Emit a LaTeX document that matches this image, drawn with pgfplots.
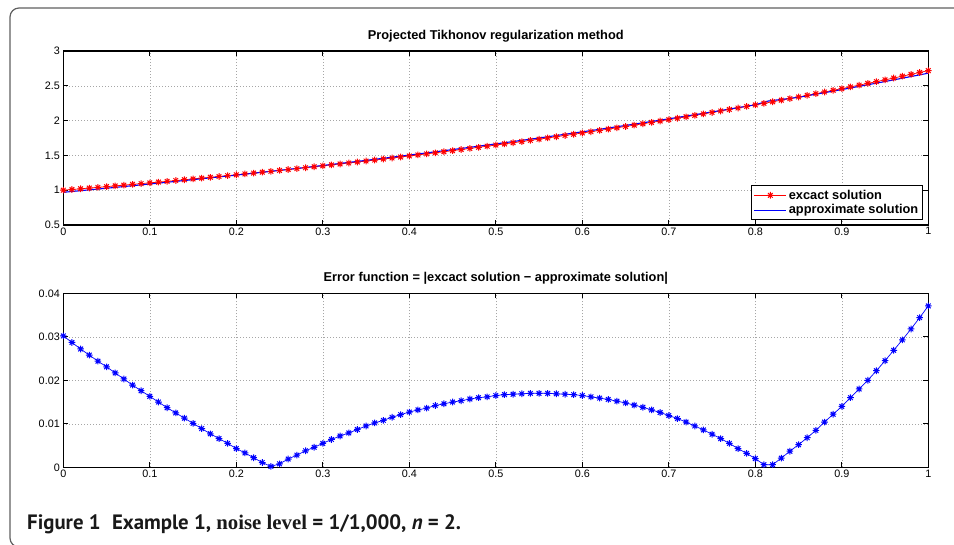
\documentclass[border=0pt]{standalone}
\usepackage{pgfplots}
\pgfplotsset{compat=1.18}
\usepackage{fontspec}
\setmainfont{Liberation Sans}
\newfontfamily\capsans{PT Sans}
\newfontfamily\capserif{Liberation Serif}

\pgfdeclareplotmark{mstar}{%
 \pgfpathmoveto{\pgfqpoint{-\pgfplotmarksize}{0pt}}\pgfpathlineto{\pgfqpoint{\pgfplotmarksize}{0pt}}%
 \pgfpathmoveto{\pgfqpoint{0pt}{-\pgfplotmarksize}}\pgfpathlineto{\pgfqpoint{0pt}{\pgfplotmarksize}}%
 \pgfpathmoveto{\pgfqpoint{-0.707\pgfplotmarksize}{-0.707\pgfplotmarksize}}\pgfpathlineto{\pgfqpoint{0.707\pgfplotmarksize}{0.707\pgfplotmarksize}}%
 \pgfpathmoveto{\pgfqpoint{-0.707\pgfplotmarksize}{0.707\pgfplotmarksize}}\pgfpathlineto{\pgfqpoint{0.707\pgfplotmarksize}{-0.707\pgfplotmarksize}}%
 \pgfusepathqstroke}

\pgfplotsset{mlab/.style={
  scale only axis, width=865pt, height=174pt, anchor=north west,
  xmin=0, xmax=1,
  xtick={0,0.1,0.2,0.3,0.4,0.5,0.6,0.7,0.8,0.9,1},
  xticklabels={0,0.1,0.2,0.3,0.4,0.5,0.6,0.7,0.8,0.9,1},
  scaled y ticks=false, scaled x ticks=false,
  tick align=inside, major tick length=5pt,
  xtick pos=both, ytick pos=both,
  axis line style={line width=1.1pt},
  tick style={line width=0.8pt, black},
  grid=major,
  major grid style={gray!70, line width=0.5pt, dash pattern=on 0.8pt off 2.2pt},
  tick label style={font=\fontsize{10.8}{12}\selectfont},
  xticklabel style={yshift=1pt},
  /pgf/number format/assume math mode=true,
  title style={font=\bfseries\fontsize{12.8}{14}\selectfont, yshift=-1pt},
  clip=false,
}}

\begin{document}
\begin{tikzpicture}
\path[use as bounding box] (0pt,0pt) rectangle (954pt,-545pt);
\draw[line width=1.2pt, gray!75!black, rounded corners=9pt] (1100pt,-8pt) -- (10pt,-8pt) -- (10pt,-547pt) -- (1100pt,-547pt);

\begin{axis}[mlab, at={(63.3pt,-51pt)},
  ymin=0.5, ymax=3,
  ytick={0.5,1,1.5,2,2.5,3},
  yticklabels={0.5,1,1.5,2,2.5,3},
  title={Projected Tikhonov regularization method},
  legend style={at={(1,0)}, anchor=south east, xshift=-5.5pt, yshift=5pt,
    draw=black, line width=1.1pt, font=\bfseries\fontsize{12.8}{14}\selectfont,
    inner sep=2pt, row sep=0pt, fill=white},
  legend cell align=left,
  legend image code/.code={\draw[line width=1pt, mark repeat=2, mark phase=2] plot coordinates {(0pt,0pt) (16pt,0pt) (32pt,0pt)};},
]
\addplot[red, line width=0.7pt, mark=mstar, mark size=3.3pt, mark options={line width=1pt}] coordinates {
(0.00,1.0000)(0.01,1.0101)(0.02,1.0202)(0.03,1.0305)(0.04,1.0408)(0.05,1.0513)(0.06,1.0618)(0.07,1.0725)(0.08,1.0833)(0.09,1.0942)
(0.10,1.1052)(0.11,1.1163)(0.12,1.1275)(0.13,1.1388)(0.14,1.1503)(0.15,1.1618)(0.16,1.1735)(0.17,1.1853)(0.18,1.1972)(0.19,1.2092)
(0.20,1.2214)(0.21,1.2337)(0.22,1.2461)(0.23,1.2586)(0.24,1.2712)(0.25,1.2840)(0.26,1.2969)(0.27,1.3100)(0.28,1.3231)(0.29,1.3364)
(0.30,1.3499)(0.31,1.3634)(0.32,1.3771)(0.33,1.3910)(0.34,1.4049)(0.35,1.4191)(0.36,1.4333)(0.37,1.4477)(0.38,1.4623)(0.39,1.4770)
(0.40,1.4918)(0.41,1.5068)(0.42,1.5220)(0.43,1.5373)(0.44,1.5527)(0.45,1.5683)(0.46,1.5841)(0.47,1.6000)(0.48,1.6161)(0.49,1.6323)
(0.50,1.6487)(0.51,1.6653)(0.52,1.6820)(0.53,1.6989)(0.54,1.7160)(0.55,1.7333)(0.56,1.7507)(0.57,1.7683)(0.58,1.7860)(0.59,1.8040)
(0.60,1.8221)(0.61,1.8404)(0.62,1.8589)(0.63,1.8776)(0.64,1.8965)(0.65,1.9155)(0.66,1.9348)(0.67,1.9542)(0.68,1.9739)(0.69,1.9937)
(0.70,2.0138)(0.71,2.0340)(0.72,2.0544)(0.73,2.0751)(0.74,2.0959)(0.75,2.1170)(0.76,2.1383)(0.77,2.1598)(0.78,2.1815)(0.79,2.2034)
(0.80,2.2255)(0.81,2.2479)(0.82,2.2705)(0.83,2.2933)(0.84,2.3164)(0.85,2.3396)(0.86,2.3632)(0.87,2.3869)(0.88,2.4109)(0.89,2.4351)
(0.90,2.4596)(0.91,2.4843)(0.92,2.5093)(0.93,2.5345)(0.94,2.5600)(0.95,2.5857)(0.96,2.6117)(0.97,2.6379)(0.98,2.6645)(0.99,2.6912)
(1.00,2.7183)};
\addlegendentry{excact solution}
\addplot[blue, line width=1.1pt, no marks] coordinates {
(0.00,0.9698)(0.05,1.0282)(0.10,1.0889)(0.15,1.1517)(0.20,1.2171)(0.24,1.2710)(0.25,1.2848)(0.30,1.3554)(0.35,1.4286)(0.40,1.5045)
(0.45,1.5833)(0.50,1.6652)(0.55,1.7503)(0.60,1.8386)(0.65,1.9303)(0.70,2.0257)(0.75,2.1246)(0.80,2.2275)(0.815,2.2815)(0.85,2.3344)
(0.90,2.4456)(0.95,2.5612)(1.00,2.6812)};
\addlegendentry{approximate solution}
\end{axis}

\begin{axis}[mlab, at={(63.3pt,-293.3pt)},
  ymin=0, ymax=0.04,
  ytick={0,0.01,0.02,0.03,0.04},
  yticklabels={0,0.01,0.02,0.03,0.04},
  title={Error function = |excact solution − approximate solution|},
]
\addplot[blue, line width=0.7pt, mark=mstar, mark size=3.3pt, mark options={line width=1pt}] coordinates {
(0.00,0.0302)(0.01,0.0287)(0.02,0.0272)(0.03,0.0258)(0.04,0.0244)(0.05,0.0231)(0.06,0.0217)(0.07,0.0203)(0.08,0.0189)(0.09,0.0176)
(0.10,0.0163)(0.11,0.0150)(0.12,0.0137)(0.13,0.0125)(0.14,0.0113)(0.15,0.0101)(0.16,0.0089)(0.17,0.0077)(0.18,0.0066)(0.19,0.0055)
(0.20,0.0043)(0.21,0.0033)(0.22,0.0022)(0.23,0.0011)(0.24,0.0002)(0.25,0.0008)(0.26,0.0019)(0.27,0.0028)(0.28,0.0038)(0.29,0.0046)
(0.30,0.0055)(0.31,0.0064)(0.32,0.0072)(0.33,0.0079)(0.34,0.0087)(0.35,0.0095)(0.36,0.0102)(0.37,0.0108)(0.38,0.0115)(0.39,0.0121)
(0.40,0.0127)(0.41,0.0132)(0.42,0.0136)(0.43,0.0142)(0.44,0.0146)(0.45,0.0150)(0.46,0.0153)(0.47,0.0157)(0.48,0.0160)(0.49,0.0162)
(0.50,0.0165)(0.51,0.0167)(0.52,0.0168)(0.53,0.0169)(0.54,0.0170)(0.55,0.0170)(0.56,0.0170)(0.57,0.0169)(0.58,0.0168)(0.59,0.0167)
(0.60,0.0165)(0.61,0.0162)(0.62,0.0159)(0.63,0.0156)(0.64,0.0152)(0.65,0.0148)(0.66,0.0143)(0.67,0.0138)(0.68,0.0132)(0.69,0.0126)
(0.70,0.0119)(0.71,0.0112)(0.72,0.0104)(0.73,0.0095)(0.74,0.0086)(0.75,0.0076)(0.76,0.0066)(0.77,0.0055)(0.78,0.0043)(0.79,0.0032)
(0.80,0.0020)(0.81,0.0006)(0.82,0.0006)(0.83,0.0021)(0.84,0.0037)(0.85,0.0052)(0.86,0.0068)(0.87,0.0085)(0.88,0.0104)(0.89,0.0122)
(0.90,0.0140)(0.91,0.0160)(0.92,0.0180)(0.93,0.0200)(0.94,0.0222)(0.95,0.0245)(0.96,0.0269)(0.97,0.0293)(0.98,0.0318)(0.99,0.0344)
(1.00,0.0371)};
\end{axis}

\node[anchor=base west, inner sep=0pt, text=black!90] at (27pt,-529pt)
  {\fontsize{20.8}{24}\selectfont\bfseries\capsans Figure 1\hspace{0.55em}Example 1, {\capserif noise level} = 1/1,000, \textit{n} = 2.};
\end{tikzpicture}
\end{document}
